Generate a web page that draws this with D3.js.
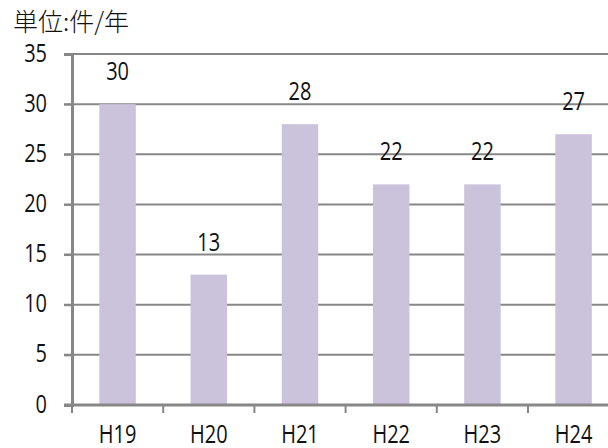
<!DOCTYPE html>
<html>
<head>
<meta charset="utf-8">
<script src="https://cdn.jsdelivr.net/npm/d3@7"></script>
<style>
  html, body { margin: 0; padding: 0; background: #fff; }
  svg { display: block; }
  text { font-family: "Open Sans", "Liberation Sans", sans-serif; font-weight: 400; fill: #111; }
</style>
</head>
<body>
<svg id="chart" width="608" height="448"></svg>
<script>
// Yearly counts (unit: cases per year)
const categories = ["H19", "H20", "H21", "H22", "H23", "H24"];
const values = [30, 13, 28, 22, 22, 27];
const yTicks = [0, 5, 10, 15, 20, 25, 30, 35];
const unitLabel = "単位:件/年";

(function draw() {
  const svg = d3.select("#chart");
  const axisColor = "#878787";
  const barColor = "#cbc2db";
  const fontSize = 25;
  const squeeze = 0.8;   // condensed look for the Latin labels

  const plotLeft = 72, plotBottom = 405, plotTop = 54;
  const band = 91.2;

  const x = d3.scaleBand()
    .domain(categories)
    .range([plotLeft, plotLeft + band * categories.length])
    .padding(0);

  const y = d3.scaleLinear().domain([0, 35]).range([plotBottom, plotTop]);

  const place = (px, py) => `translate(${px},${py}) scale(${squeeze},1)`;

  // Horizontal gridlines
  svg.append("g")
    .selectAll("line")
    .data(yTicks.filter(d => d > 0))
    .join("line")
    .attr("x1", plotLeft - 8).attr("x2", 608)
    .attr("y1", d => y(d)).attr("y2", d => y(d))
    .attr("stroke", axisColor).attr("stroke-width", 2);

  // Bars
  const barW = x.bandwidth() * 0.4;
  svg.append("g")
    .selectAll("rect")
    .data(values)
    .join("rect")
    .attr("x", (d, i) => x(categories[i]) + (x.bandwidth() - barW) / 2)
    .attr("y", d => y(d))
    .attr("width", barW)
    .attr("height", d => plotBottom - y(d))
    .attr("fill", barColor);

  // Value labels
  svg.append("g")
    .selectAll("text")
    .data(values)
    .join("text")
    .attr("transform", (d, i) => place(x(categories[i]) + x.bandwidth() / 2, y(d) - 24))
    .attr("text-anchor", "middle")
    .attr("font-size", fontSize)
    .text(d => d);

  // Y axis
  const yAxis = d3.axisLeft(y).tickValues(yTicks).tickSize(8).tickPadding(17);
  const gy = svg.append("g").attr("transform", `translate(${plotLeft},0)`).call(yAxis);
  gy.attr("font-family", null).attr("font-size", null);
  gy.select(".domain").attr("stroke", axisColor).attr("stroke-width", 3);
  gy.selectAll(".tick line").attr("stroke", axisColor).attr("stroke-width", 2);
  gy.selectAll(".tick text")
    .attr("font-size", fontSize).attr("fill", "#111")
    .attr("x", null).attr("dy", null)
    .attr("transform", place(-25, 7));

  // X axis with ticks at category boundaries
  svg.append("line")
    .attr("x1", plotLeft - 8).attr("x2", 608)
    .attr("y1", plotBottom).attr("y2", plotBottom)
    .attr("stroke", axisColor).attr("stroke-width", 3);

  svg.append("g")
    .selectAll("line")
    .data(categories)
    .join("line")
    .attr("x1", d => x(d)).attr("x2", d => x(d))
    .attr("y1", plotBottom).attr("y2", plotBottom + 8)
    .attr("stroke", axisColor).attr("stroke-width", 2);

  svg.append("g")
    .selectAll("text")
    .data(categories)
    .join("text")
    .attr("transform", d => place(x(d) + x.bandwidth() / 2, 443))
    .attr("text-anchor", "middle")
    .attr("font-size", fontSize)
    .text(d => d);

  // Unit label
  svg.append("text")
    .attr("x", 13).attr("y", 31)
    .attr("font-size", 25)
    .style("font-family", "'Noto Sans CJK JP', sans-serif")
    .style("font-weight", 300)
    .text(unitLabel);
})();
</script>
</body>
</html>
